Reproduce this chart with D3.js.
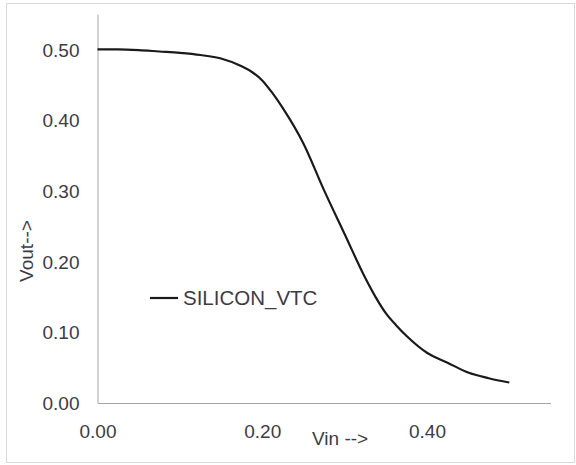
<!DOCTYPE html>
<html>
<head>
<meta charset="utf-8">
<script src="https://cdn.jsdelivr.net/npm/d3@7"></script>
<style>
  body { margin: 0; background: #fff; }
  text { font-family: "Liberation Sans", Arial, sans-serif; fill: #3d3b45; }
</style>
</head>
<body>
<div id="chart"></div>
<script>
// Vin / Vout samples
var vin  = [0, 0.025, 0.05, 0.075, 0.1, 0.125, 0.15, 0.175, 0.1875, 0.2, 0.2125, 0.225, 0.25,
            0.275, 0.3, 0.325, 0.3375, 0.35, 0.3625, 0.375, 0.4, 0.425, 0.45, 0.475, 0.5];
var vout = [0.500, 0.500, 0.499, 0.497, 0.495, 0.492, 0.487, 0.476, 0.468, 0.456, 0.438, 0.417, 0.367,
            0.301, 0.239, 0.177, 0.150, 0.127, 0.110, 0.095, 0.071, 0.057, 0.043, 0.035, 0.029];
var xTicks = [0, 0.2, 0.4];
var yTicks = [0, 0.1, 0.2, 0.3, 0.4, 0.5];
var seriesName = "SILICON_VTC";

var width = 576, height = 465;
var svg = d3.select("#chart").append("svg")
    .attr("width", width).attr("height", height);

// outer chart border
svg.append("rect")
    .attr("x", 6.5).attr("y", 3.5)
    .attr("width", 568).attr("height", 459)
    .attr("fill", "none").attr("stroke", "#d9d9d9");

var x = d3.scaleLinear().domain([0, 0.55]).range([97.5, 550.5]);
var y = d3.scaleLinear().domain([0, 0.55]).range([403, 14]);

// y axis (no tick marks)
var yAxis = svg.append("g")
    .attr("transform", "translate(" + x(0) + ",0)")
    .call(d3.axisLeft(y).tickValues(yTicks).tickSize(0).tickPadding(18)
        .tickFormat(d3.format(".2f")));
yAxis.select(".domain").attr("stroke", "#a6a6a6");
yAxis.selectAll("text").style("font-size", "19px").attr("dy", "0.35em");

// x axis
var xAxis = svg.append("g")
    .attr("transform", "translate(0," + y(0) + ")")
    .call(d3.axisBottom(x).tickValues(xTicks).tickSize(0).tickPadding(22)
        .tickFormat(d3.format(".2f")));
xAxis.select(".domain").attr("stroke", "#a6a6a6");
xAxis.selectAll("text").style("font-size", "19px").attr("dy", "0.71em");

// curve
var pts = vin.map(function (v, i) { return [v, vout[i]]; });
var line = d3.line()
    .x(function (d) { return x(d[0]); })
    .y(function (d) { return y(d[1]); })
    .curve(d3.curveMonotoneX);
svg.append("path")
    .datum(pts)
    .attr("d", line)
    .attr("fill", "none")
    .attr("stroke", "#1a1a1a")
    .attr("stroke-width", 2.2);

// axis titles
svg.append("text")
    .attr("x", 312).attr("y", 445)
    .style("font-size", "19px")
    .text("Vin -->");
svg.append("text")
    .attr("transform", "translate(33,251) rotate(-90)")
    .attr("text-anchor", "middle")
    .style("font-size", "19px")
    .text("Vout-->");

// legend
svg.append("line")
    .attr("x1", 150).attr("x2", 178)
    .attr("y1", 298).attr("y2", 298)
    .attr("stroke", "#1a1a1a").attr("stroke-width", 2.2);
svg.append("text")
    .attr("x", 183).attr("y", 298)
    .attr("dy", "0.35em")
    .style("font-size", "20.5px")
    .text(seriesName);
</script>
</body>
</html>
